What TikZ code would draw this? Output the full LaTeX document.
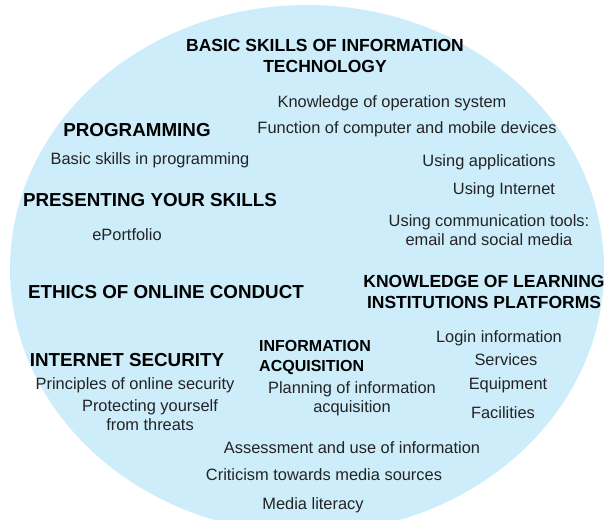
\documentclass[tikz,border=0pt]{standalone}
\usepackage{fontspec}
\setmainfont{Liberation Sans}
\usepackage{tikz}
\definecolor{bubble}{RGB}{205, 237, 251}
\definecolor{ink}{RGB}{35, 35, 35}
\newcommand*{\headfont}{\fontsize{17.5}{21}\selectfont\bfseries}
\newcommand*{\bigheadfont}{\fontsize{18.8}{22}\selectfont\bfseries}
\newcommand*{\smallheadfont}{\fontsize{16}{20}\selectfont\bfseries}
\newcommand*{\itemfont}{\fontsize{16.4}{19}\selectfont}

\begin{document}
\begin{tikzpicture}[
   x=1pt, y=-1pt,
   heading/.style={font=\headfont, text=black, inner sep=0, align=center},
   bigheading/.style={heading, font=\bigheadfont},
   smallheading/.style={heading, font=\smallheadfont},
   skill/.style={font=\itemfont, text=ink, inner sep=0, align=center}
  ]

  % Background bubble
  \useasboundingbox (0, 0) rectangle (606, 520);
  \clip (0, 0) rectangle (606, 520);
  \fill[bubble] (307, 269) ellipse [x radius=297, y radius=264];

  % Headings
  \node (IT) at (325, 56) [heading] {BASIC SKILLS OF INFORMATION\\TECHNOLOGY};
  \node (PROG) at (137, 130) [bigheading] {PROGRAMMING};
  \node (PRES) at (150, 200) [bigheading] {PRESENTING YOUR SKILLS};
  \node (ETH) at (166, 292) [bigheading] {ETHICS OF ONLINE CONDUCT};
  \node (LIP) at (484, 292) [heading] {KNOWLEDGE OF LEARNING\\INSTITUTIONS PLATFORMS};
  \node (SEC) at (127, 360) [bigheading] {INTERNET SECURITY};
  \node (ACQ) at (259, 357) [smallheading, anchor=west, align=left] {INFORMATION\\ACQUISITION};

  % Skills
  \node (OS) at (392, 103) [skill] {Knowledge of operation system};
  \node (DEV) at (407, 129) [skill] {Function of computer and mobile devices};
  \node (APP) at (489, 162) [skill] {Using applications};
  \node (NET) at (504, 190) [skill] {Using Internet};
  \node (COM) at (489, 230) [skill] {Using communication tools:\\email and social media};
  \node (BSP) at (150, 160) [skill] {Basic skills in programming};
  \node (EPF) at (127, 235) [skill] {ePortfolio};
  \node (LOG) at (499, 338) [skill] {Login information};
  \node (SRV) at (506, 360) [skill] {Services};
  \node (EQP) at (508, 385) [skill] {Equipment};
  \node (FAC) at (503, 413) [skill] {Facilities};
  \node (PRI) at (135, 385) [skill] {Principles of online security};
  \node (PRT) at (150, 415) [skill] {Protecting yourself\\from threats};
  \node (PLN) at (352, 399) [skill] {Planning of information\\acquisition};
  \node (ASS) at (352, 448) [skill] {Assessment and use of information};
  \node (CRI) at (324, 475) [skill] {Criticism towards media sources};
  \node (MED) at (313, 505) [skill] {Media literacy};

\end{tikzpicture}
\end{document}
